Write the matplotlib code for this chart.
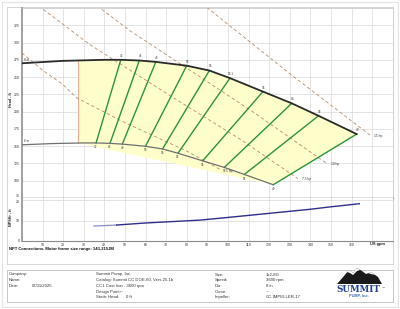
import matplotlib
matplotlib.use("Agg")
import matplotlib.pyplot as plt
from matplotlib.patches import Polygon, Rectangle
import numpy as np

plt.rcParams['font.family'] = ['Liberation Sans', 'DejaVu Sans']

# ---------------- data ----------------
# max impeller (8 in) curve
q_max = [0, 20, 40, 48, 57, 65, 80, 91, 101, 117, 131, 144, 162.5]
h_max = [270, 273.5, 275, 275, 274, 272, 266.5, 259.5, 248.5, 229, 212, 194, 167.5]
# min impeller (6 in) curve
q_min = [0, 15, 30, 36, 42.75, 48.75, 60, 68.25, 75.75, 87.75, 98.25, 108, 122]
h_min = [152, 153.8, 154.7, 154.7, 154.1, 153, 149.9, 146, 139.8, 128.8, 119.3, 109.1, 94.2]

# scaled points joined by green lines (top point -> bottom point)
eff_q_top = [48, 57, 65, 80, 91, 101, 117, 131, 144, 162.5]
eff_h_top = [275, 274, 272, 266.5, 259.5, 248.5, 229, 212, 194, 167.5]
eff_q_bot = [36, 42.75, 48.75, 60, 68.25, 75.75, 87.75, 98.25, 108, 122]
eff_h_bot = [154.7, 154.1, 153, 149.9, 146, 139.8, 128.8, 119.3, 109.1, 94.2]
eff_lab_top = ["42", "46", "49", "53", "55", "56.1", "55", "54", "53", "49"]
eff_lab_bot = ["42", "46", "49", "53", "55", "56", "55", "52", "51", "49"]

# left limit of the operating region
q_min_flow = 27

# power lines
hp5_q = [0, 9.6, 20, 26.6, 50, 80, 97]
hp5_h = [285, 261, 239, 220, 184, 143, 115]
hp75_q = [10.4, 33, 72, 106, 134]
hp75_h = [348, 297, 223, 160, 103]
hp10_q = [38.7, 52.5, 78, 111, 148]
hp10_h = [348, 317, 267, 202, 125]
hp15_q = [89.7, 130, 169]
hp15_h = [351, 255, 166]
hp_labels = ["5 hp", "7.5 hp", "10 hp", "15 hp"]

# NPSHr curve
npsh_q = [35, 46, 60, 86.5, 100, 120, 140, 150, 163.8]
npsh_v = [7.3, 7.8, 8.8, 10.2, 11.5, 13.5, 15.5, 16.7, 18.2]

x_ticks = list(range(10, 161, 10))
head_ticks = [75, 100, 125, 150, 175, 200, 225, 250, 275, 300, 325]
npsh_ticks = [0, 10, 20]

info_left = [("Company:", ""), ("Name:", ""), ("Date:", "07/11/2025")]
info_mid = ["Summit Pump, Inc.", "Catalog: Summit CC DOE-60, Vers 25.1b",
            "CC1 Cast Iron - 3600 rpm"]
info_mid2 = [("Design Point:", "---"), ("Static Head:", "0 ft")]
info_right = [("Size:", "1x2-8G"), ("Speed:", "3600 rpm"), ("Dia:", "8 in"),
              ("Curve:", "---"), ("Impeller:", "CC-IMPELLER-17")]

# ---------------- figure ----------------
W, H = 400, 309
fig = plt.figure(figsize=(W / 100, H / 100), dpi=100)


def fx(x):
    return x / W


def fy(y):
    return 1 - y / H


# frames
bg = fig.add_axes([0, 0, 1, 1])
bg.set_xlim(0, W)
bg.set_ylim(H, 0)
bg.axis('off')
bg.add_patch(Rectangle((2, 2), 396, 305, fill=False, ec='#e4e4e4', lw=0.8))
bg.add_patch(Rectangle((7, 7), 386, 257, fill=False, ec='#cfcfcf', lw=0.6))
bg.add_patch(Rectangle((7, 270), 386, 32, fill=False, ec='#bdbdbd', lw=0.6))

ax_l, ax_r = 21.9, 392.7
ax = fig.add_axes([fx(ax_l), fy(198), (ax_r - ax_l) / W, (198 - 8) / H])
axn = fig.add_axes([fx(ax_l), fy(241), (ax_r - ax_l) / W, (241 - 198) / H])

grid_c = '#d9d9d9'
for a in (ax, axn):
    a.set_xlim(0, 180)
    a.set_xticks(list(range(0, 181, 10)))
    a.grid(True, color=grid_c, lw=0.5)
    a.set_axisbelow(True)
    a.tick_params(length=0, labelsize=2.5, colors='#333333', pad=1.5)
    for s in ('top', 'right'):
        a.spines[s].set_color('#cfcfcf')
        a.spines[s].set_linewidth(0.5)
    a.spines['left'].set_color('#9a9a9a')
    a.spines['left'].set_linewidth(1.3)

ax.set_ylim(75, 350)
ax.set_yticks(list(range(75, 351, 25)))
ax.set_yticklabels([str(v) if v in head_ticks else "" for v in range(75, 351, 25)])
ax.get_yticklabels()[0].set_va('bottom')
ax.tick_params(axis='x', labelbottom=False)
ax.spines['bottom'].set_color('#6e6e6e')
ax.spines['bottom'].set_linewidth(1.0)

axn.set_ylim(0, 21)
axn.set_yticks(npsh_ticks)
axn.set_yticklabels([str(v) for v in npsh_ticks])
axn.get_yticklabels()[-1].set_va('top')
axn.set_xticklabels([str(v) if v in x_ticks else "" for v in range(0, 181, 10)])
axn.spines['bottom'].set_color('#8a8a8a')
axn.spines['bottom'].set_linewidth(0.8)
axn.spines['top'].set_visible(False)

# operating region fill
h_at_min = float(np.interp(q_min_flow, q_min, h_min))
h_top_min = float(np.interp(q_min_flow, q_max, h_max))
poly = [(q_min_flow, h_at_min), (q_min_flow, h_top_min)]
poly += [(q, h) for q, h in zip(q_max, h_max) if q > q_min_flow]
poly += [(q_min[-1], h_min[-1])]
ax.add_patch(Polygon(poly, closed=True, fc='#ffffcc', ec='none', zorder=1))
ax.plot([q_min_flow, q_min_flow], [h_at_min, h_top_min], color='#f0a080', lw=0.6, zorder=2)

# power lines
for qs, hs, lab in zip([hp5_q, hp75_q, hp10_q, hp15_q],
                       [hp5_h, hp75_h, hp10_h, hp15_h], hp_labels):
    ax.plot(qs, hs, color='#b88c66', lw=0.6, ls=(0, (4, 3)), zorder=3, clip_on=True)
    ax.text(qs[-1] + 2, hs[-1] - 1, lab, fontsize=2.3, color='#333333',
            va='center', ha='left', zorder=6)

# green scaled lines
for qt, ht, qb, hb in zip(eff_q_top, eff_h_top, eff_q_bot, eff_h_bot):
    ax.plot([qt, qb], [ht, hb], color='#2a9438', lw=1.0, zorder=4)

# impeller curves
ax.plot(q_min, h_min, color='#707070', lw=0.9, zorder=5)
ax.plot(q_max, h_max, color='#2a2a2a', lw=1.3, zorder=5)
ax.text(1, h_max[0] + 2, "8 in", fontsize=2.3, color='#333333', va='bottom', ha='left')
ax.text(1, h_min[0] + 2, "6 in", fontsize=2.3, color='#333333', va='bottom', ha='left')

for q, h, t in zip(eff_q_top, eff_h_top, eff_lab_top):
    ax.text(q + 0.5, h + 3, t, fontsize=2.2, color='#333333', ha='center', va='bottom', zorder=6)
for q, h, t in zip(eff_q_bot, eff_h_bot, eff_lab_bot):
    ax.text(q, h - 3, t, fontsize=2.2, color='#333333', ha='center', va='top', zorder=6)

# NPSHr
axn.plot(npsh_q[:2], npsh_v[:2], color='#8c8cc8', lw=0.9)
axn.plot(npsh_q[1:], npsh_v[1:], color='#2e2e8c', lw=1.0)

# axis labels
fig.text(fx(11), fy(100), "Head - ft", rotation=90, fontsize=2.7, fontweight='bold',
         ha='center', va='center', color='#222222')
fig.text(fx(11), fy(217), "NPSHr - ft", rotation=90, fontsize=2.7, fontweight='bold',
         ha='center', va='center', color='#222222')
fig.text(fx(378), fy(243.5), "US gpm", fontsize=2.9, fontweight='bold',
         ha='center', va='center', color='#222222')
fig.text(fx(9), fy(249), "NPT Connections. Motor frame size range: 143-215JM",
         fontsize=3.0, fontweight='bold', ha='left', va='center', color='#111111')

# info block
rows = [274.5, 280.2, 285.9, 291.6, 297.3]
fs = 3.1
for i, (k, v) in enumerate(info_left):
    fig.text(fx(9), fy(rows[i]), k, fontsize=fs, va='center', color='#333333')
    fig.text(fx(32.3), fy(rows[i]), v, fontsize=fs, va='center', color='#333333')
for i, t in enumerate(info_mid):
    fig.text(fx(96), fy(rows[i]), t, fontsize=fs, va='center', color='#333333')
fig.text(fx(96), fy(rows[3]), info_mid2[0][0], fontsize=fs, va='center', color='#333333')
fig.text(fx(119.5), fy(rows[3]), info_mid2[0][1], fontsize=fs, va='center', color='#333333')
fig.text(fx(96), fy(rows[4]), info_mid2[1][0], fontsize=fs, va='center', color='#333333')
fig.text(fx(126), fy(rows[4]), info_mid2[1][1], fontsize=fs, va='center', color='#333333')
for i, (k, v) in enumerate(info_right):
    fig.text(fx(215), fy(rows[i]), k, fontsize=fs, va='center', color='#333333')
    fig.text(fx(265.7), fy(rows[i]), v, fontsize=fs, va='center', color='#333333')

# logo
mount = [(337, 284), (344, 276), (349, 270), (353, 273), (357, 268), (362, 271),
         (366, 274), (371, 272), (378, 277), (382, 284)]
bg.add_patch(Polygon(mount, closed=True, fc='#1a1a1a', ec='none'))
snow = [(347, 272), (349, 270), (353, 273), (357, 268), (360, 270), (357, 271),
        (353, 275), (350, 273)]
bg.add_patch(Polygon(snow, closed=True, fc='#ffffff', ec='none'))
bg.add_patch(Polygon([(368, 273), (371, 272), (375, 275), (371, 274)], closed=True,
                     fc='#ffffff', ec='none'))
fig.text(fx(358.5), fy(289), "SUMMIT", fontsize=6.3, fontweight='bold', family='DejaVu Serif',
         ha='center', va='center', color='#23408e')
fig.text(fx(381.5), fy(287), "TM", fontsize=1.5, ha='left', va='center', color='#23408e')
fig.text(fx(359), fy(295.5), "PUMP, Inc.", fontsize=2.8, fontweight='bold',
         ha='center', va='center', color='#3a6ab8')

fig.savefig("out.png", dpi=100)
